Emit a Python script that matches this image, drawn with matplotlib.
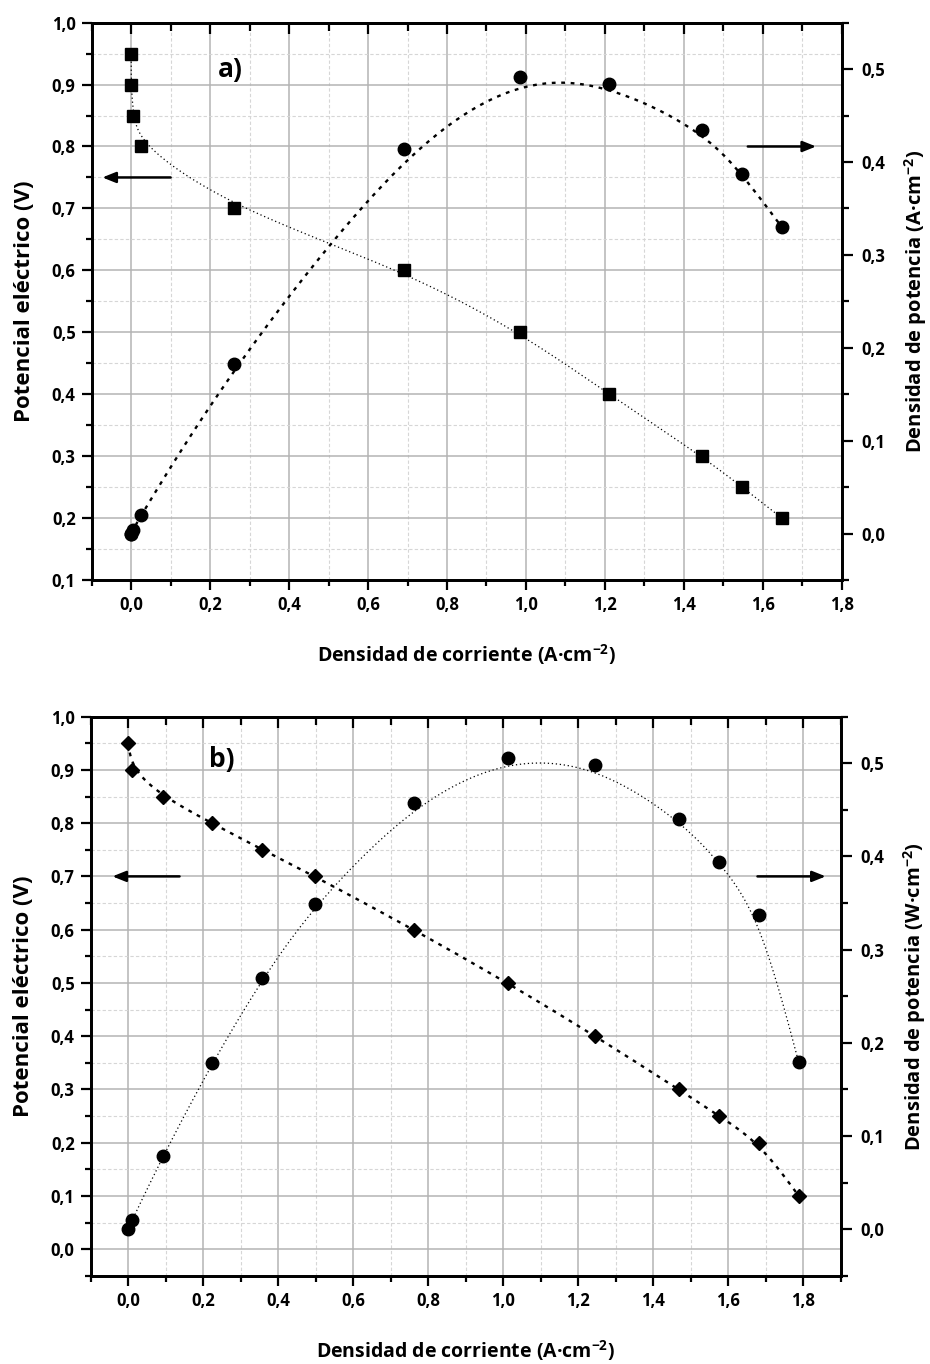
import numpy as np
import matplotlib
matplotlib.use("Agg")
import matplotlib.pyplot as plt
from matplotlib.ticker import MultipleLocator, FuncFormatter

plt.rcParams['font.family'] = ['Open Sans', 'DejaVu Sans']
plt.rcParams['font.weight'] = 'bold'
plt.rcParams['mathtext.fontset'] = 'custom'
plt.rcParams['mathtext.bf'] = 'Open Sans:bold'
plt.rcParams['mathtext.rm'] = 'Open Sans:bold'
plt.rcParams['mathtext.default'] = 'bf'

# ---------------- data ----------------
# panel a)
I_a = [0.0, 0.0, 0.005, 0.025, 0.26, 0.69, 0.985, 1.21, 1.445, 1.548, 1.648]
V_a = [0.95, 0.90, 0.85, 0.80, 0.70, 0.60, 0.50, 0.40, 0.30, 0.25, 0.20]
P_a = [0.0, 0.0, 0.004, 0.020, 0.182, 0.414, 0.492, 0.484, 0.434, 0.387, 0.330]
# panel b)
I_b = [0.0, 0.011, 0.092, 0.223, 0.358, 0.498, 0.762, 1.012, 1.246, 1.468, 1.576, 1.683, 1.788]
V_b = [0.95, 0.90, 0.85, 0.80, 0.75, 0.70, 0.60, 0.50, 0.40, 0.30, 0.25, 0.20, 0.10]
P_b = [0.0, 0.010, 0.078, 0.178, 0.269, 0.349, 0.457, 0.506, 0.498, 0.440, 0.394, 0.337, 0.179]

xlabel = 'Densidad de corriente (A·cm$^{-2}$)'
ylabel_left = 'Potencial eléctrico (V)'
ylabel_right_a = 'Densidad de potencia (A·cm$^{-2}$)'
ylabel_right_b = 'Densidad de potencia (W·cm$^{-2}$)'


def bspline(x, y, n=60):
    """Clamped uniform cubic B-spline using the data points as control points."""
    P = np.column_stack([x, y]).astype(float)
    P = np.vstack([P[0], P[0], P, P[-1], P[-1]])
    t = np.linspace(0, 1, n, endpoint=False)
    M = np.array([[-1, 3, -3, 1], [3, -6, 3, 0], [-3, 0, 3, 0], [1, 4, 1, 0]]) / 6.0
    T = np.column_stack([t**3, t**2, t, np.ones_like(t)])
    B = T @ M
    pts = [B @ P[i:i + 4] for i in range(len(P) - 3)]
    pts.append(P[-1:])
    out = np.vstack(pts)
    return out[:, 0], out[:, 1]


fmt = FuncFormatter(lambda v, p: f"{v:.1f}".replace('.', ','))
FS = 12

thin = dict(color='black', lw=0.9, ls=(0, (1, 2.2)))
thick = dict(color='black', lw=1.7, ls=(0, (1.6, 2.4)))

fig = plt.figure(figsize=(9.3, 13.64), dpi=100)


def make_panel(rect, I, V, P, xmax, ylim_left, vstyle, pstyle, vmarker, vms,
               rlabel, letter, letter_pos, larrow, rarrow):
    ax = fig.add_axes(rect)
    ax.set_xlim(-0.1, xmax)
    ax.set_ylim(*ylim_left)
    ax.xaxis.set_major_locator(MultipleLocator(0.2))
    ax.xaxis.set_minor_locator(MultipleLocator(0.1))
    ax.yaxis.set_major_locator(MultipleLocator(0.1))
    ax.yaxis.set_minor_locator(MultipleLocator(0.05))
    ax.xaxis.set_major_formatter(fmt)
    ax.yaxis.set_major_formatter(fmt)
    ax.grid(which='major', color='#b4b4b4', lw=1.1, ls='-')
    ax.grid(which='minor', color='#d6d6d6', lw=0.8, ls=(0, (3, 2)))
    ax.set_axisbelow(True)
    ax.tick_params(which='major', direction='out', length=7.5, width=1.6,
                   labelsize=FS, pad=4)
    ax.tick_params(which='minor', direction='out', length=4.5, width=1.6)
    for s in ax.spines.values():
        s.set_linewidth(2)
    for lab in ax.get_xticklabels() + ax.get_yticklabels():
        lab.set_fontweight('bold')

    # top ticks (inward)
    top = ax.secondary_xaxis('top')
    top.set_zorder(5)
    top.xaxis.set_major_locator(MultipleLocator(0.2))
    top.xaxis.set_minor_locator(MultipleLocator(0.1))
    top.tick_params(which='major', direction='in', length=8, width=1.6, labeltop=False)
    top.tick_params(which='minor', direction='in', length=5.5, width=1.6)
    top.spines['top'].set_linewidth(2)

    ax2 = ax.twinx()
    ax2.set_ylim(-0.05, 0.55)
    ax2.yaxis.set_major_locator(MultipleLocator(0.1))
    ax2.yaxis.set_minor_locator(MultipleLocator(0.05))
    ax2.yaxis.set_major_formatter(FuncFormatter(
        lambda v, p: f"{v:.1f}".replace('.', ',') if v > -0.01 else ''))
    ax2.tick_params(which='major', direction='out', length=8, width=1.6,
                    labelsize=FS, pad=6)
    ax2.tick_params(which='minor', direction='out', length=5, width=1.6)
    for s in ax2.spines.values():
        s.set_linewidth(2)
    for lab in ax2.get_yticklabels():
        lab.set_fontweight('bold')

    # curves
    xs, ys = bspline(I, V)
    ax.plot(xs, ys, **vstyle)
    ax.plot(I, V, ls='none', marker=vmarker, ms=vms, color='black', mec='black')
    xs, ys = bspline(I, P)
    ax2.plot(xs, ys, **pstyle)
    ax2.plot(I, P, ls='none', marker='o', ms=9, color='black')

    # labels
    ax.set_xlabel(xlabel, fontsize=14, fontweight='bold')
    ax.xaxis.set_label_coords(0.5, -0.112)
    ax.set_ylabel(ylabel_left, fontsize=16, fontweight='bold')
    ax.yaxis.set_label_coords(-0.076, 0.5)
    ax2.set_ylabel(rlabel, fontsize=14.5, fontweight='bold')
    ax2.yaxis.set_label_coords(1.081, 0.5)

    ax.text(letter_pos[0], letter_pos[1], letter, fontsize=19, fontweight='bold',
            ha='center', va='center')
    ax.annotate('', xy=(larrow[0], larrow[2]), xytext=(larrow[1], larrow[2]),
                arrowprops=dict(arrowstyle='-|>,head_length=0.8,head_width=0.32',
                                color='black', lw=1.8, shrinkA=0, shrinkB=0))
    ax.annotate('', xy=(rarrow[1], rarrow[2]), xytext=(rarrow[0], rarrow[2]),
                arrowprops=dict(arrowstyle='-|>,head_length=0.8,head_width=0.32',
                                color='black', lw=1.8, shrinkA=0, shrinkB=0))
    return ax, ax2


make_panel([0.0986, 0.5748, 0.8065, 0.4086], I_a, V_a, P_a, 1.8, (0.1, 1.0),
           thin, thick, 's', 8.2, ylabel_right_a, 'a)', (0.25, 0.924),
           (-0.073, 0.1, 0.75), (1.562, 1.735, 0.80))

make_panel([0.0975, 0.0647, 0.8065, 0.4099], I_b, V_b, P_b, 1.9, (-0.05, 1.0),
           thick, thin, 'D', 7.4, ylabel_right_b, 'b)', (0.25, 0.92),
           (-0.042, 0.137, 0.70), (1.678, 1.86, 0.70))

fig.savefig('out.png', dpi=100)
